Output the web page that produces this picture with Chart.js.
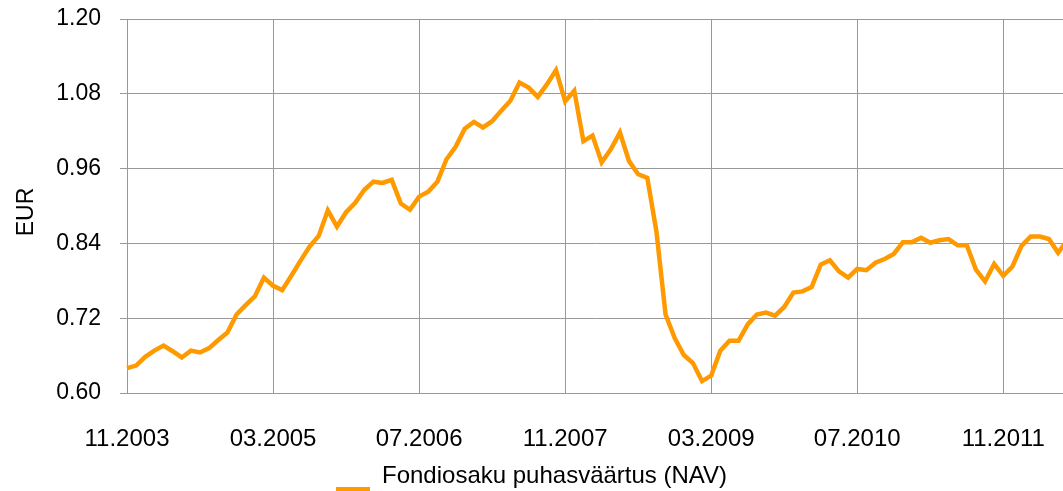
<!DOCTYPE html>
<html><head><meta charset="utf-8">
<script src="https://cdn.jsdelivr.net/npm/chart.js@4"></script>
<style>html,body{margin:0;padding:0;background:#fff;overflow:hidden}#wrap{width:1063px;height:491px;position:relative}</style>
</head><body><div id="wrap"><canvas id="c" width="1063" height="491"></canvas></div>
<script>
const seriesName = 'Fondiosaku puhasväärtus (NAV)';
const yAxisTitle = 'EUR';
// monthly NAV, starting 11.2003
const navValues = [
  0.640, 0.644, 0.658, 0.668, 0.676, 0.667, 0.657, 0.668, 0.665, 0.672,
  0.685, 0.697, 0.726, 0.741, 0.755, 0.785, 0.772, 0.765, 0.788, 0.812,
  0.835, 0.852, 0.893, 0.867, 0.890, 0.905, 0.926, 0.939, 0.937, 0.942,
  0.904, 0.894, 0.915, 0.923, 0.939, 0.975, 0.995, 1.024, 1.035, 1.026,
  1.036, 1.053, 1.069, 1.098, 1.090, 1.075, 1.095, 1.118, 1.068, 1.085,
  1.004, 1.013, 0.970, 0.991, 1.018, 0.972, 0.951, 0.945, 0.859, 0.726,
  0.688, 0.661, 0.648, 0.619, 0.628, 0.668, 0.684, 0.684, 0.710, 0.726,
  0.729, 0.724, 0.738, 0.761, 0.763, 0.770, 0.806, 0.813, 0.795, 0.785,
  0.799, 0.797, 0.809, 0.815, 0.823, 0.842, 0.842, 0.849, 0.841, 0.845,
  0.847, 0.837, 0.837, 0.798, 0.779, 0.807, 0.788, 0.803, 0.836, 0.851,
  0.851, 0.847, 0.825, 0.845
];
const xTickMonths = [0, 16, 32, 48, 64, 80, 96];
const xTickLabels = ['11.2003', '03.2005', '07.2006', '11.2007', '03.2009', '07.2010', '11.2011'];
const yTickValues = [0.60, 0.72, 0.84, 0.96, 1.08, 1.20];
const xMin = 0, xMax = 102.54;

const FONT = 'Liberation Sans, Arial, sans-serif';
const LINE_COLOR = '#FF9900';
const GRID = '#989898';

const extras = {
  id: 'extras',
  afterDraw(chart) {
    const ctx = chart.ctx;
    ctx.save();
    ctx.fillStyle = '#000';
    ctx.font = '23px ' + FONT;
    ctx.textAlign = 'center';
    ctx.textBaseline = 'middle';
    ctx.translate(27, 212);
    ctx.rotate(-Math.PI / 2);
    ctx.fillText(yAxisTitle, 0, 0);
    ctx.restore();
    ctx.save();
    ctx.font = '24px ' + FONT;
    const label = chart.data.datasets[0].label;
    const tw = ctx.measureText(label).width;
    const lineW = 34, gap = 12;
    const total = lineW + gap + tw;
    const x0 = Math.round(chart.width / 2 - total / 2);
    ctx.strokeStyle = LINE_COLOR;
    ctx.lineWidth = 4;
    ctx.beginPath();
    ctx.moveTo(x0, 489);
    ctx.lineTo(x0 + lineW, 489);
    ctx.stroke();
    ctx.fillStyle = '#000';
    ctx.textAlign = 'left';
    ctx.textBaseline = 'alphabetic';
    ctx.fillText(label, x0 + lineW + gap, 483);
    ctx.restore();
  }
};

new Chart(document.getElementById('c'), {
  type: 'line',
  data: {
    datasets: [{
      label: seriesName,
      data: navValues.map((v, i) => ({ x: i, y: v })),
      borderColor: LINE_COLOR,
      backgroundColor: LINE_COLOR,
      borderWidth: 4.5,
      pointRadius: 0,
      tension: 0,
      borderJoinStyle: 'miter',
      clip: { left: 3, top: 3, right: 0, bottom: 3 }
    }]
  },
  options: {
    responsive: false,
    animation: false,
    devicePixelRatio: 1,
    layout: { padding: { top: 19, right: 0, bottom: 38, left: 0 } },
    plugins: { legend: { display: false }, tooltip: { enabled: false } },
    scales: {
      x: {
        type: 'linear',
        min: xMin,
        max: xMax,
        afterBuildTicks(axis) { axis.ticks = xTickMonths.map(v => ({ value: v })); },
        afterFit(axis) { axis.height = 60; axis.paddingLeft = 0; axis.paddingRight = 0; },
        ticks: {
          autoSkip: false,
          maxRotation: 0,
          padding: 32,
          color: '#000',
          font: { family: FONT, size: 24 },
          callback(value) { const k = xTickMonths.indexOf(value); return k >= 0 ? xTickLabels[k] : ''; }
        },
        grid: { color: GRID, lineWidth: 1, drawTicks: false },
        border: { display: true, color: GRID, width: 1 }
      },
      y: {
        min: 0.6,
        max: 1.2,
        afterBuildTicks(axis) { axis.ticks = yTickValues.map(v => ({ value: v })); },
        afterFit(axis) { axis.width = 127; axis.paddingTop = 0; axis.paddingBottom = 0; },
        ticks: {
          padding: 19,
          color: '#000',
          font: { family: FONT, size: 23 },
          callback(value) { return Number(value).toFixed(2); }
        },
        grid: { color: GRID, lineWidth: 1, drawTicks: true, tickLength: 7 },
        border: { display: true, color: GRID, width: 1 }
      }
    }
  },
  plugins: [extras]
});
</script></body></html>
